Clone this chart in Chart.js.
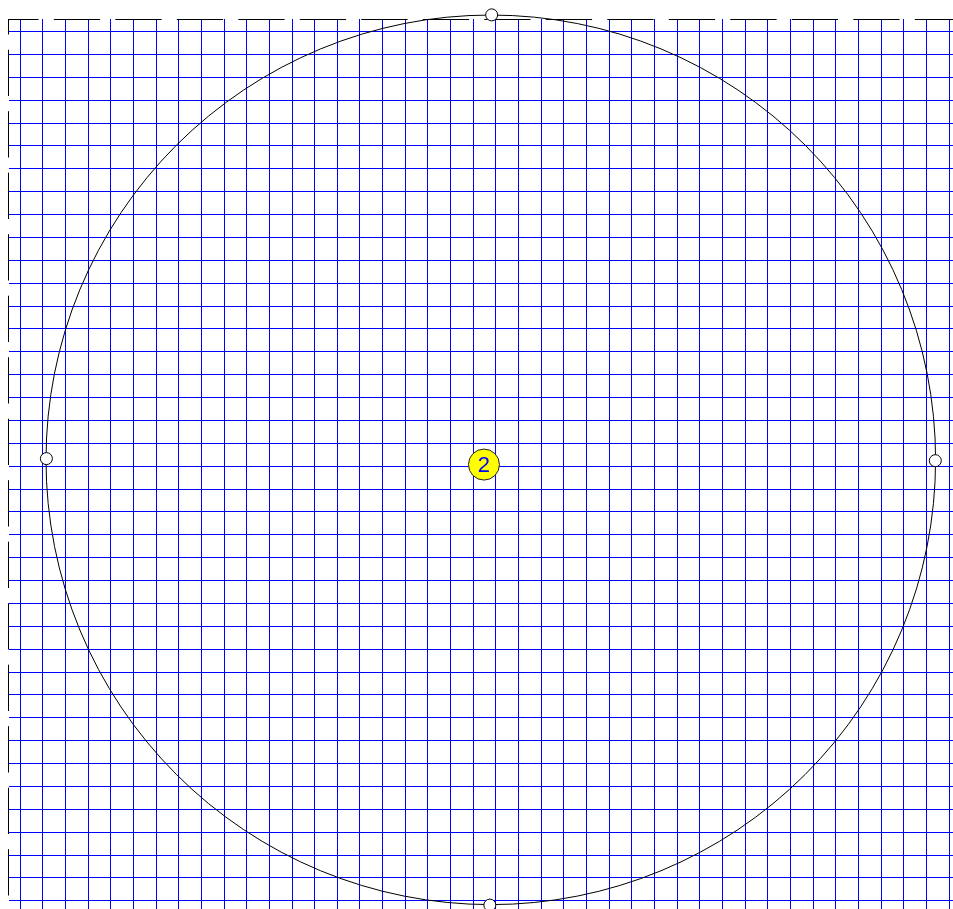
<!DOCTYPE html>
<html>
<head>
<meta charset="utf-8">
<script src="https://cdn.jsdelivr.net/npm/chart.js@4.4.1/dist/chart.umd.min.js"></script>
<style>
  html, body { margin: 0; padding: 0; background: #fff; overflow: hidden; }
  #wrap { position: relative; width: 953px; height: 909px; }
</style>
</head>
<body>
<div id="wrap"><canvas id="chart"></canvas></div>
<script>
// visible window, in grid units (one grid square = 1)
const xRange = [-0.49, 41.17];
const yRange = [-0.36, 38.55];
const gridStep = 1;

// open handles on the ring: top, bottom, left, right
const ringX = [20.81, 20.73, 1.16, 40.39];
const ringY = [38.73, -0.19, 19.33, 19.24];

// labelled point near the middle
const pointX = [20.47];
const pointY = [19.07];
const pointLabels = ['2'];

const toXY = (xs, ys) => xs.map((x, i) => ({ x, y: ys[i] }));

// ring through the four handles (centre = mean, radius = mean distance)
const ringPlugin = {
  id: 'ring',
  beforeDatasetsDraw(chart) {
    const pts = chart.getDatasetMeta(0).data;
    if (!pts.length) return;
    const cx = pts.reduce((s, p) => s + p.x, 0) / pts.length;
    const cy = pts.reduce((s, p) => s + p.y, 0) / pts.length;
    const r = pts.reduce((s, p) => s + Math.hypot(p.x - cx, p.y - cy), 0) / pts.length;
    const ctx = chart.ctx;
    ctx.save();
    ctx.strokeStyle = '#000';
    ctx.lineWidth = 1;
    ctx.beginPath();
    ctx.arc(cx, cy, r, 0, Math.PI * 2);
    ctx.stroke();
    ctx.restore();
  }
};

// dashed frame on the top and left edges of the plot area
const framePlugin = {
  id: 'frame',
  beforeDatasetsDraw(chart) {
    const { ctx, chartArea: a } = chart;
    ctx.save();
    ctx.strokeStyle = '#000';
    ctx.lineWidth = 1;
    ctx.setLineDash([46.3, 15.2]);
    ctx.lineDashOffset = 16.2;
    ctx.beginPath();
    ctx.moveTo(a.left - 0.5, a.top + 0.5);
    ctx.lineTo(chart.width, a.top + 0.5);
    ctx.stroke();
    ctx.lineDashOffset = 30.8;
    ctx.beginPath();
    ctx.moveTo(a.left - 0.5, a.top);
    ctx.lineTo(a.left - 0.5, chart.height);
    ctx.stroke();
    ctx.restore();
  }
};

const labelPlugin = {
  id: 'pointLabel',
  afterDatasetsDraw(chart) {
    const ctx = chart.ctx;
    ctx.save();
    ctx.fillStyle = '#0000ff';
    ctx.font = '22px "Liberation Sans", Arial, sans-serif';
    ctx.textAlign = 'center';
    ctx.textBaseline = 'middle';
    chart.getDatasetMeta(1).data.forEach((p, i) => {
      ctx.fillText(pointLabels[i], p.x, p.y + 1);
    });
    ctx.restore();
  }
};

const gridAxis = (range, position, fit) => ({
  type: 'linear',
  position,
  min: range[0],
  max: range[1],
  ticks: { display: false, stepSize: gridStep, includeBounds: false, maxTicksLimit: 1000 },
  grid: { color: '#0000ff', lineWidth: 1, drawTicks: false },
  border: { display: false },
  afterFit: fit
});

new Chart(document.getElementById('chart'), {
  type: 'scatter',
  data: {
    datasets: [
      {
        data: toXY(ringX, ringY),
        pointRadius: 6,
        pointBackgroundColor: '#fff',
        pointBorderColor: '#000',
        pointBorderWidth: 1,
        clip: false
      },
      {
        data: toXY(pointX, pointY),
        pointRadius: 15.5,
        pointBackgroundColor: '#ffff00',
        pointBorderColor: '#222',
        pointBorderWidth: 1,
        clip: false
      }
    ]
  },
  options: {
    responsive: true,
    maintainAspectRatio: false,
    animation: false,
    events: [],
    layout: { autoPadding: false, padding: { left: 9, top: 19, right: 0, bottom: 0 } },
    scales: {
      x: gridAxis(xRange, 'top', s => { s.height = 0; }),
      y: gridAxis(yRange, 'left', s => { s.width = 0; })
    },
    plugins: {
      legend: { display: false },
      tooltip: { enabled: false }
    }
  },
  plugins: [ringPlugin, framePlugin, labelPlugin]
});
</script>
</body>
</html>
